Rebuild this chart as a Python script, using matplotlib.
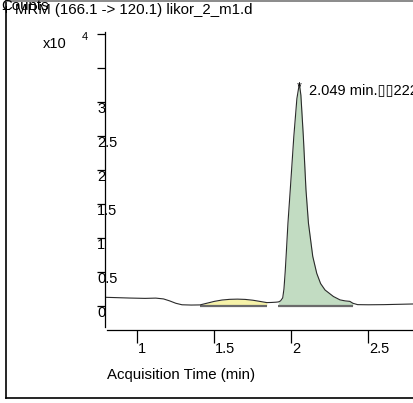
import numpy as np
import matplotlib
matplotlib.use("Agg")
import matplotlib.pyplot as plt
from matplotlib.lines import Line2D
from matplotlib.transforms import blended_transform_factory

plt.rcParams['font.family'] = ['Liberation Sans', 'DejaVu Sans']

# chromatogram trace: acquisition time (min) vs counts
time_min = [0.790, 0.850, 0.950, 1.050, 1.120, 1.170, 1.210, 1.250, 1.290, 1.350,
            1.407, 1.450, 1.500, 1.550, 1.600, 1.650, 1.700, 1.750, 1.800, 1.841,
            1.870, 1.900, 1.916, 1.930, 1.944, 1.952, 1.960, 1.966, 1.978, 1.993,
            2.016, 2.036, 2.052, 2.062, 2.078, 2.095, 2.111, 2.139, 2.165, 2.190,
            2.219, 2.273, 2.316, 2.350, 2.380, 2.400, 2.430, 2.500, 2.600, 2.700,
            2.797]
counts = [1280, 1240, 1170, 1120, 1160, 1040, 750, 400, 180, 140,
          160, 400, 680, 880, 980, 1010, 970, 850, 660, 500,
          520, 560, 600, 750, 1200, 2500, 5000, 7300, 12200, 17100,
          24900, 30500, 32700, 31000, 24900, 17100, 12200, 7300, 4800, 3300,
          2350, 1400, 900, 750, 680, 400, 200, 180, 200, 250,
          300]

# integrated peak windows (min)
peak1_window = (1.407, 1.841)
peak2_window = (1.916, 2.400)
peak_label = "2.049 min.\u25af\u25af222"
peak_time = 2.052

y_ticks = [0, 0.5, 1, 1.5, 2, 2.5, 3, 3.5, 4]
y_labels = ["0", "0.5", "1", "1.5", "2", "2.5", "3"]
x_ticks = [1, 1.5, 2, 2.5]
x_labels = ["1", "1.5", "2", "2.5"]

t = np.array(time_min)
y = np.array(counts) / 1e4

W, H = 414, 403
fig = plt.figure(figsize=(W / 100, H / 100), dpi=100)
ax = fig.add_axes([105 / W, 73 / H, 309 / W, 298 / H])

ax.set_xlim(0.790, 0.790 + 309 / 154)
ax.set_ylim(-24 / 68, -24 / 68 + 298 / 68)

base = 0.006
for (a, b), col in [(peak1_window, "#f6f2a8"), (peak2_window, "#c2dcc2")]:
    m = (t >= a - 1e-9) & (t <= b + 1e-9)
    ax.fill_between(t[m], y[m], base, color=col, lw=0)
    ax.plot([a, b], [base, base], color="#6b6b6b", lw=1.6, solid_capstyle="butt")

ax.plot(t, y, color="#2a2a2a", lw=0.8)

for s in ["top", "right"]:
    ax.spines[s].set_visible(False)
ax.spines["left"].set_bounds(-0.31, ax.get_ylim()[1])
ax.spines["bottom"].set_bounds(0.803, ax.get_xlim()[1])
ax.spines["left"].set_linewidth(0.9)
ax.spines["bottom"].set_linewidth(0.9)

ax.set_yticks(y_ticks)
ax.set_xticks(x_ticks)
ax.tick_params(axis="y", direction="out", length=5.8, width=0.9, labelleft=False)
ax.tick_params(axis="x", direction="out", length=9.4, width=0.9, labelbottom=False)

ty = blended_transform_factory(ax.transAxes, ax.transData)
for v, lab in zip(y_ticks, y_labels):
    ax.text(-8 / 309, v, lab, transform=ty, ha="left", va="top", fontsize=10.5)
tx = blended_transform_factory(ax.transData, ax.transAxes)
for v, lab in zip(x_ticks, x_labels):
    ax.text(v + 1 / 154, -12 / 298, lab, transform=tx, ha="left", va="top", fontsize=10.5)

# peak annotation
pk = int(np.argmax(y))
ax.text(peak_time, y[pk] - 0.05, "*", ha="center", va="center", fontsize=9)
ax.text(2.115, 3.18, peak_label, ha="left", va="center", fontsize=10.5)

# header texts
fig.text(1 / W, 1 - 6 / H, "Counts", ha="left", va="center", fontsize=10.8)
fig.text(2 / W, 1 - 10 / H, "+ MRM (166.1 -> 120.1) likor_2_m1.d",
         ha="left", va="center", fontsize=10.8)
fig.text(43 / W, 1 - 44 / H, "x10", ha="left", va="center", fontsize=10.5)
fig.text(82 / W, 1 - 37 / H, "4", ha="left", va="center", fontsize=8)
fig.text(107 / W, 1 - 375 / H, "Acquisition Time (min)", ha="left", va="center", fontsize=10.8)

# outer frame
fig.add_artist(Line2D([6.5 / W, 6.5 / W], [1, 1 - 398 / H], color="black", lw=1.2))
fig.add_artist(Line2D([6 / W, 1], [1 - 398 / H, 1 - 398 / H], color="black", lw=1.2))
fig.add_artist(Line2D([6 / W, 1], [1 - 0.5 / H, 1 - 0.5 / H], color="#777777", lw=1.2))

fig.savefig("out.png", dpi=100)
